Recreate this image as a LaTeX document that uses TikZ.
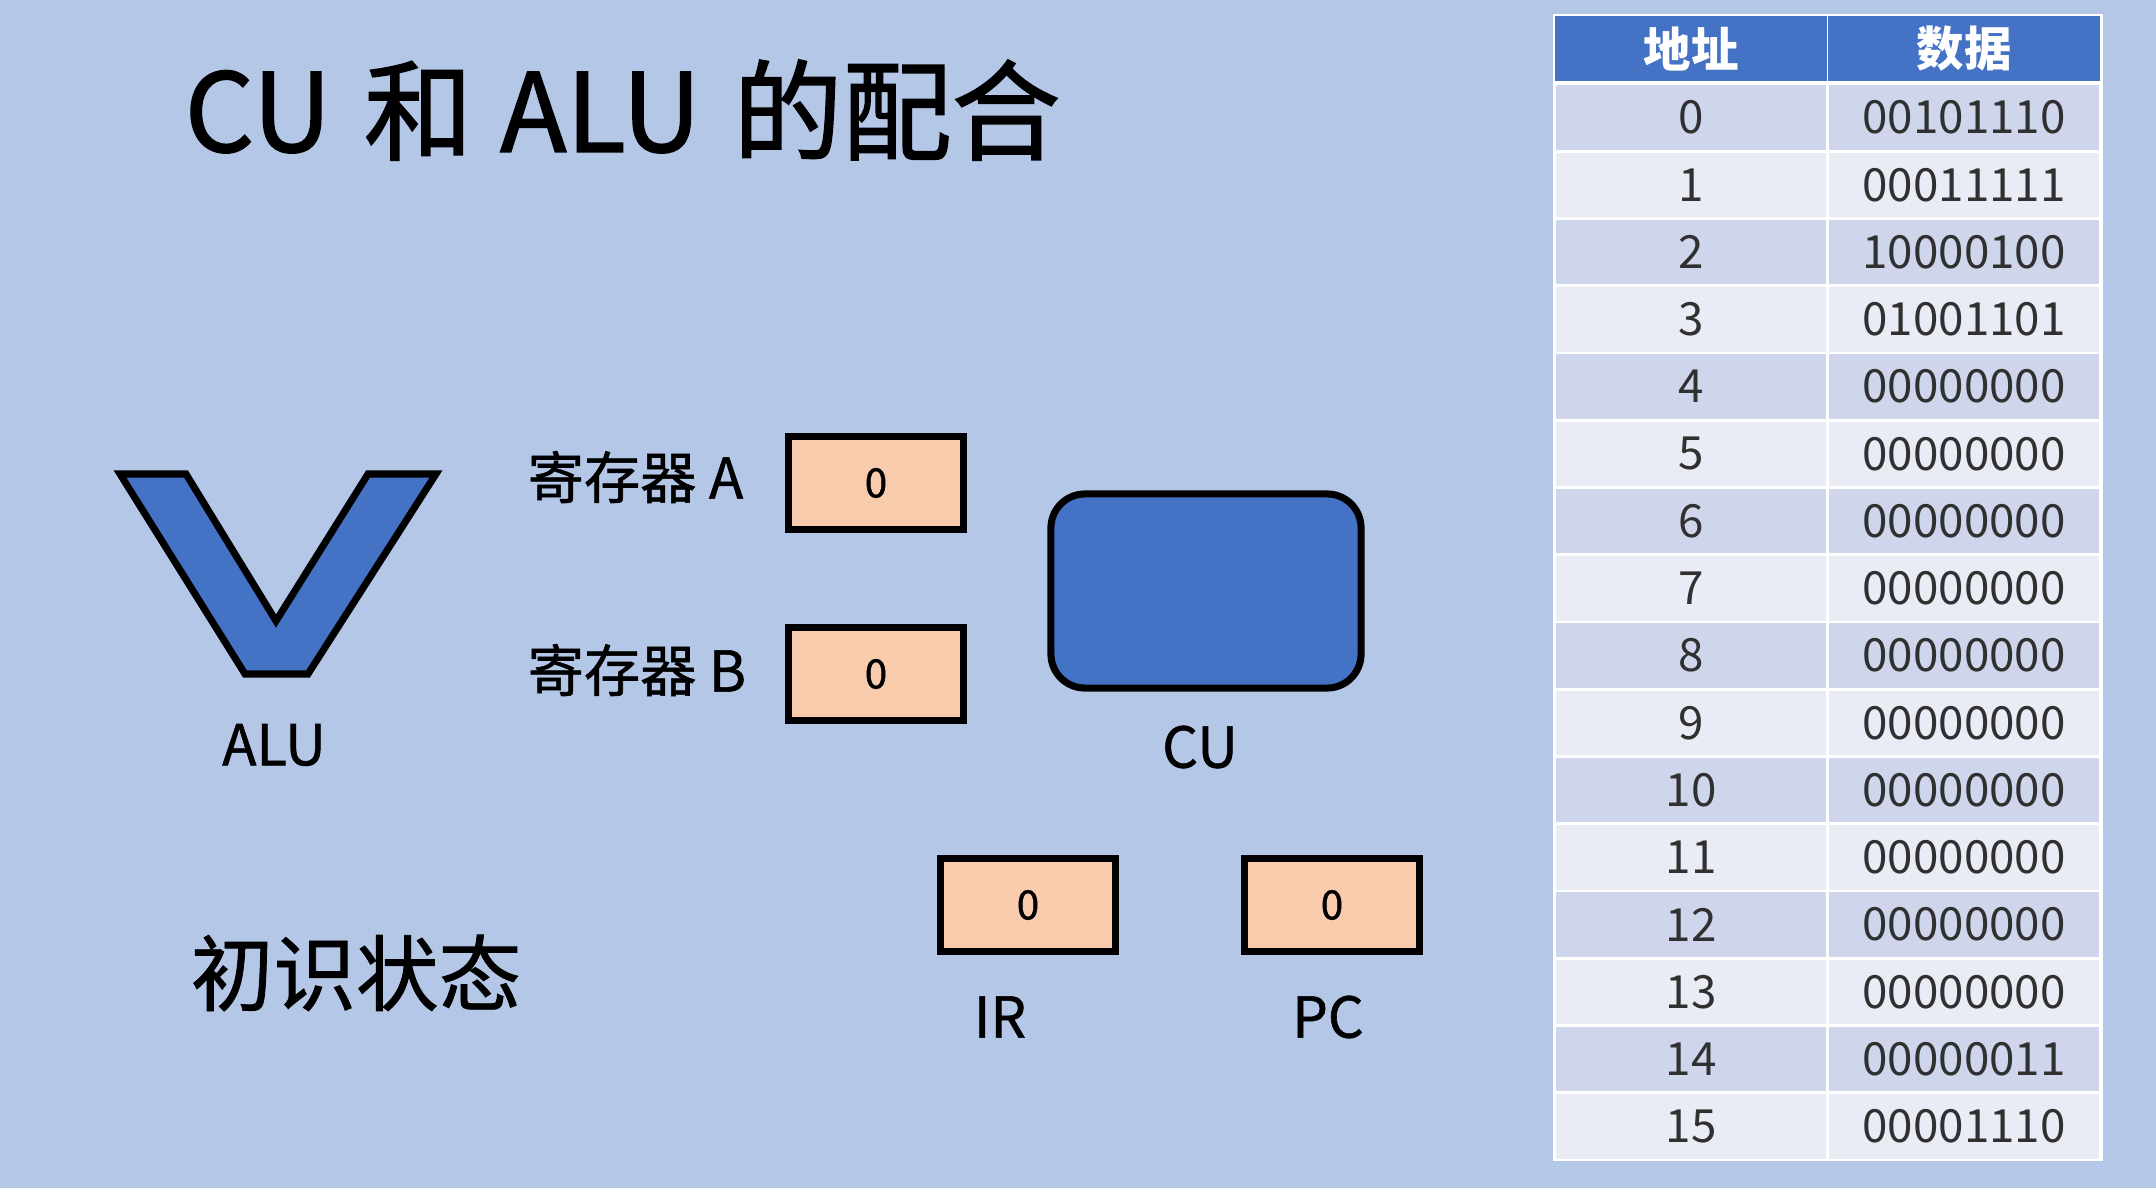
\documentclass[tikz,border=0pt]{standalone}
\usepackage{fontspec}
\setmainfont{Noto Sans CJK SC}
\newfontfamily\medfont[FakeBold=1.0]{Noto Sans CJK SC}
\newfontfamily\titlefont[FakeBold=1.4]{Noto Sans CJK SC}
\definecolor{bgblue}{HTML}{B4C7E7}
\definecolor{accblue}{HTML}{4472C4}
\definecolor{regfill}{HTML}{F8CBAD}
\definecolor{rowa}{HTML}{CFD5EA}
\definecolor{rowb}{HTML}{E9EBF5}
\definecolor{txt}{HTML}{303030}
\tikzset{
  regbox/.style={draw=black, line width=2pt, fill=regfill, minimum width=1.75cm, minimum height=0.93cm, inner sep=0pt, font=\medfont\fontsize{11.5}{13}\selectfont},
  lbl/.style={font=\medfont\fontsize{16}{19}\selectfont, inner sep=0pt},
  reglbl/.style={font=\medfont\fontsize{16}{19}\selectfont, inner sep=0pt, anchor=west},
  cell/.style={draw=white, line width=0.8pt, minimum width=2.72cm, minimum height=0.6725cm, inner sep=0pt, text=txt, font=\fontsize{13}{15}\selectfont},
  headcell/.style={fill=accblue, minimum width=2.72cm, minimum height=0.645cm, inner sep=0pt, text=white, font=\fontsize{13.5}{16}\selectfont\bfseries},
}
\begin{document}
\begin{tikzpicture}[x=0.01cm, y=-0.01cm]
\fill[bgblue] (0,0) rectangle (2156,1188);
\useasboundingbox (0,0) rectangle (2156,1188);

% title
\node[anchor=west, inner sep=0pt, font=\titlefont\fontsize{31}{36}\selectfont] (title) at (184,110) {CU\hspace{0.3em}和\hspace{0.25em}ALU\hspace{0.3em}的配合};

% ALU shape
\draw[line width=2pt, fill=accblue, line join=miter]
  (120,474) -- (186,474) -- (276,621) -- (368,474) -- (436,474) -- (308,674) -- (245,674) -- cycle;
\node[lbl] (alulbl) at (274,745) {ALU};

% registers
\node[reglbl] (ralbl) at (527,477) {寄存器 A};
\node[regbox] (ra) at (876,483) {0};
\node[reglbl] (rblbl) at (527,670) {寄存器 B};
\node[regbox] (rb) at (876,674) {0};

% CU
\node[draw=black, line width=2pt, fill=accblue, rounded corners=0.34cm, minimum width=3.10cm, minimum height=1.94cm] (cu) at (1206,591) {};
\node[lbl] (culbl) at (1200,747) {CU};

% IR and PC
\node[regbox] (ir) at (1028,905) {0};
\node[lbl] (irlbl) at (1000,1017) {IR};
\node[regbox] (pc) at (1332,905) {0};
\node[lbl] (pclbl) at (1328,1017) {PC};

\node[anchor=west, inner sep=0pt, font=\medfont\fontsize{23.5}{28}\selectfont] (state) at (190,973) {初识状态};

% table
\fill[white] (1553,14.5) rectangle (2103,1161);
\node[headcell] (h1) at (1691,48.75) {地址};
\node[headcell] (h2) at (1964,48.75) {数据};
\foreach \i/\d in {0/00101110,1/00011111,2/10000100,3/01001101,4/00000000,5/00000000,6/00000000,7/00000000,8/00000000,9/00000000,10/00000000,11/00000000,12/00000000,13/00000000,14/00000011,15/00001110}{
  \pgfmathtruncatemacro{\parity}{mod(\i,2)}
  \ifnum\parity=0 \def\rc{rowa}\else\def\rc{rowb}\fi
  \node[cell, fill=\rc] (a\i) at (1691,{84+33.6+\i*67.25}) {\i};
  \node[cell, fill=\rc] (d\i) at (1964,{84+33.6+\i*67.25}) {\d};
}
\end{tikzpicture}
\end{document}
